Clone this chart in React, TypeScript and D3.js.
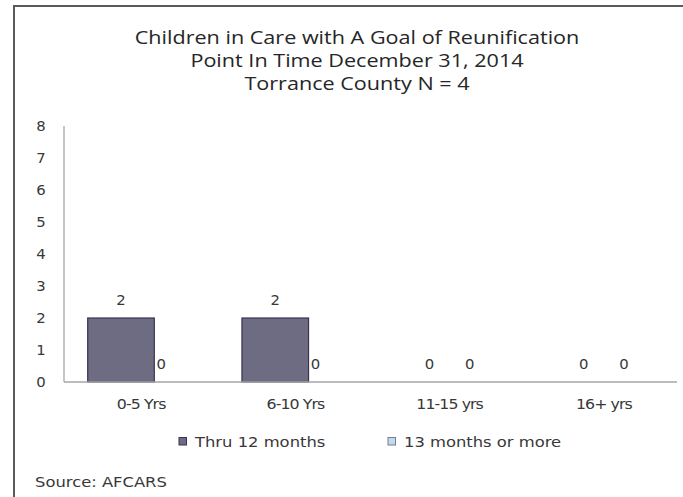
import React, { useEffect, useRef } from 'react';
import * as d3 from 'd3';

const categories = ['0-5 Yrs', '6-10 Yrs', '11-15 yrs', '16+ yrs'];
const seriesNames = ['Thru 12 months', '13 months or more'];
const thru12 = [2, 2, 0, 0];
const over13 = [0, 0, 0, 0];
const yTicks = [0, 1, 2, 3, 4, 5, 6, 7, 8];
const titleLines = [
  'Children in Care with A Goal of Reunification',
  'Point In Time December 31, 2014',
  'Torrance County N = 4',
];
const colors = ['#6e6c82', '#c6d9ea'];
const strokes = ['#3a3252', '#6f7f95'];

const W = 683;
const H = 497;
const SX = 1.17; // the original text is stretched sideways
const FONT = "'DejaVu Sans', Verdana, sans-serif";
const INK = '#383838';

export default function App() {
  const svgRef = useRef<SVGSVGElement>(null);

  useEffect(() => {
    if (!svgRef.current) return;
    const svg = d3.select(svgRef.current);
    svg.selectAll('*').remove();

    const place = (x: number, y: number, sx = SX) => `translate(${x},${y}) scale(${sx},1)`;

    svg.append('rect').attr('width', W).attr('height', H).attr('fill', '#fff');

    // frame (only top and left edges show)
    svg.append('path')
      .attr('d', `M14,${H} V6 H${W}`)
      .attr('fill', 'none')
      .attr('stroke', '#5a5a5a')
      .attr('stroke-width', 2);

    // title
    const title = svg.append('g').attr('font-family', "'Open Sans', sans-serif")
      .attr('font-size', 18).attr('fill', '#262626').attr('text-anchor', 'middle');
    titleLines.forEach((t, i) => {
      title.append('text').attr('transform', place(357, 43.5 + i * 23.3, 1.2)).text(t);
    });

    const x0 = d3.scaleBand<string>().domain(categories).range([64, 681]);
    const x1 = d3.scaleBand<string>().domain(seriesNames).range([23.7, 23.7 + 133.2]);
    const y = d3.scaleLinear().domain([0, 8]).range([382, 126]);

    // y axis
    svg.append('line').attr('x1', 64).attr('x2', 64).attr('y1', y(8)).attr('y2', y(0))
      .attr('stroke', '#a6a6a6').attr('stroke-width', 1.3);
    svg.append('g').attr('font-family', FONT).attr('font-size', 13.5)
      .attr('fill', INK).attr('text-anchor', 'middle')
      .selectAll('text').data(yTicks).join('text')
      .attr('transform', d => place(41, y(d), 1.1)).attr('dy', '0.36em').text(d => d);

    // bars
    const data = [thru12, over13];
    data.forEach((vals, si) => {
      const g = svg.append('g');
      g.selectAll('rect').data(vals.map((v, i) => ({ v, c: categories[i] })).filter(d => d.v > 0))
        .join('rect')
        .attr('x', d => (x0(d.c) || 0) + (x1(seriesNames[si]) || 0))
        .attr('y', d => y(d.v))
        .attr('width', x1.bandwidth())
        .attr('height', d => y(0) - y(d.v))
        .attr('fill', colors[si])
        .attr('stroke', strokes[si])
        .attr('stroke-width', 1.2);
    });

    // x axis
    svg.append('line').attr('x1', 64).attr('x2', 677).attr('y1', y(0)).attr('y2', y(0))
      .attr('stroke', '#a6a6a6').attr('stroke-width', 1.3);
    svg.append('g').attr('font-family', FONT).attr('font-size', 13.5)
      .attr('fill', INK).attr('text-anchor', 'middle')
      .selectAll('text').data(categories).join('text')
      .attr('transform', d => place((x0(d) || 0) + x0.bandwidth() / 2, 404))
      .attr('dy', '0.36em').attr('letter-spacing', -0.8).text(d => d);

    // data labels
    const lab = svg.append('g').attr('font-family', FONT)
      .attr('font-size', 13.5).attr('fill', INK).attr('text-anchor', 'middle');
    lab.selectAll('text.s1').data(thru12).join('text').attr('class', 's1')
      .attr('transform', (d, i) => place((x0(categories[i]) || 0) + (x1(seriesNames[0]) || 0) + x1.bandwidth() / 2, y(d) - 18, 1.1))
      .attr('dy', '0.36em').text(d => d);
    lab.selectAll('text.s2').data(over13).join('text').attr('class', 's2')
      .attr('transform', (d, i) => place((x0(categories[i]) || 0) + (x1(seriesNames[1]) || 0) + 7, y(d) - 18, 1.1))
      .attr('dy', '0.36em').text(d => d);

    // legend
    const legendX = [179, 388];
    const leg = svg.append('g').attr('font-family', FONT)
      .attr('font-size', 14).attr('fill', INK);
    seriesNames.forEach((s, i) => {
      leg.append('rect').attr('x', legendX[i]).attr('y', 437.5).attr('width', 7.5).attr('height', 7.5)
        .attr('fill', colors[i]).attr('stroke', strokes[i]).attr('stroke-width', 1);
      leg.append('text').attr('transform', place(legendX[i] + 16, 441.5)).attr('dy', '0.36em')
        .text(s);
    });

    svg.append('text').attr('transform', place(35, 482)).attr('dy', '0.36em')
      .attr('font-family', FONT).attr('font-size', 14)
      .attr('fill', INK).text('Source: AFCARS');
  }, []);

  return (
    <div style={{ position: 'absolute', left: 0, top: 0, width: W, height: H }}>
      <svg ref={svgRef} width={W} height={H} style={{ display: 'block' }} />
    </div>
  );
}
